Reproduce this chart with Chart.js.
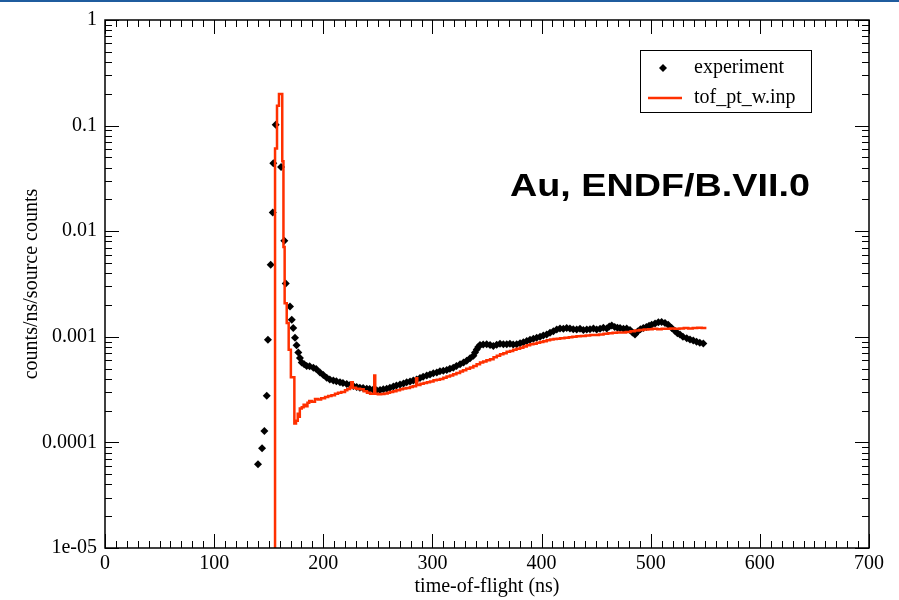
<!DOCTYPE html>
<html>
<head>
<meta charset="utf-8">
<script src="https://cdn.jsdelivr.net/npm/chart.js@4"></script>
<style>
html, body { margin: 0; padding: 0; background: #fff; }
#wrap { width: 899px; height: 600px; }
</style>
</head>
<body>
<div id="wrap"><canvas id="tofChart" width="899" height="600"></canvas></div>
<script>
// measured points (time-of-flight in ns, counts/ns/source counts)
var expTime = [140.2, 143.9, 146.0, 148.2, 149.3, 151.8, 153.7, 154.2, 156.4, 161.3,
    164.3, 165.6, 169.5, 171.1, 172.5, 174.1, 175.5, 177.1, 178.6, 180.2,
    182.5, 184.8, 187.5, 190.9, 193.5, 197.0, 200.0, 203.1, 206.0, 209.2,
    212.0, 215.3, 218.0, 221.5, 224.5, 227.5, 230.6, 233.5, 236.5, 239.8,
    242.5, 245.5, 248.9, 252.0, 255.0, 258.1, 261.0, 264.2, 267.0, 270.3,
    273.5, 276.4, 279.5, 282.5, 285.5, 288.6, 291.5, 294.8, 297.8, 300.8,
    304.0, 306.9, 310.0, 313.1, 316.0, 319.1, 322.0, 325.3, 328.5, 331.4,
    334.5, 337.5, 339.0, 340.6, 342.0, 343.6, 346.5, 349.7, 352.8, 355.8,
    358.9, 361.9, 365.0, 368.1, 371.0, 374.0, 377.2, 380.3, 383.3, 386.4,
    389.4, 392.5, 395.5, 398.6, 401.6, 404.7, 407.7, 410.8, 413.9, 416.9,
    420.0, 423.0, 426.0, 429.0, 432.2, 435.2, 438.3, 441.4, 444.4, 447.5,
    450.5, 453.6, 456.6, 459.7, 462.0, 464.3, 467.0, 469.5, 471.9, 475.0,
    478.0, 481.0, 483.3, 485.6, 488.0, 490.6, 493.2, 496.0, 498.5, 500.9,
    504.0, 507.0, 510.0, 513.1, 516.0, 519.2, 522.0, 524.5, 526.8, 529.5,
    533.0, 536.0, 539.0, 542.0, 545.0, 548.2];
var expCounts = [6.2e-5, 8.8e-5, 1.28e-4, 2.77e-4, 9.4e-4, 4.8e-3, 0.015, 0.0439, 0.1016, 0.0405,
    8.1e-3, 3.2e-3, 1.94e-3, 1.45e-3, 1.21e-3, 9.8e-4, 8.3e-4, 7.1e-4, 6.3e-4, 5.7e-4,
    5.5e-4, 5.3e-4, 5.25e-4, 5.1e-4, 4.95e-4, 4.6e-4, 4.35e-4, 4.1e-4, 3.95e-4, 3.85e-4,
    3.8e-4, 3.72e-4, 3.65e-4, 3.58e-4, 3.5e-4, 3.42e-4, 3.34e-4, 3.3e-4, 3.27e-4, 3.22e-4,
    3.2e-4, 3.15e-4, 3.11e-4, 3.14e-4, 3.18e-4, 3.22e-4, 3.3e-4, 3.39e-4, 3.45e-4, 3.54e-4,
    3.62e-4, 3.72e-4, 3.78e-4, 3.85e-4, 3.95e-4, 4.07e-4, 4.18e-4, 4.3e-4, 4.4e-4, 4.51e-4,
    4.6e-4, 4.71e-4, 4.78e-4, 4.84e-4, 4.98e-4, 5.1e-4, 5.3e-4, 5.51e-4, 5.7e-4, 5.93e-4,
    6.25e-4, 6.6e-4, 7.1e-4, 7.6e-4, 8.0e-4, 8.36e-4, 8.45e-4, 8.48e-4, 8.35e-4, 8.18e-4,
    8.4e-4, 8.6e-4, 8.5e-4, 8.48e-4, 8.6e-4, 8.45e-4, 8.48e-4, 8.7e-4, 8.9e-4, 9.12e-4,
    9.4e-4, 9.6e-4, 9.8e-4, 1.0e-3, 1.03e-3, 1.05e-3, 1.09e-3, 1.13e-3, 1.17e-3, 1.2e-3,
    1.19e-3, 1.21e-3, 1.2e-3, 1.18e-3, 1.17e-3, 1.19e-3, 1.16e-3, 1.17e-3, 1.18e-3, 1.2e-3,
    1.17e-3, 1.19e-3, 1.22e-3, 1.2e-3, 1.25e-3, 1.28e-3, 1.24e-3, 1.22e-3, 1.21e-3, 1.19e-3,
    1.2e-3, 1.16e-3, 1.1e-3, 1.05e-3, 1.12e-3, 1.18e-3, 1.21e-3, 1.24e-3, 1.27e-3, 1.30e-3,
    1.34e-3, 1.37e-3, 1.38e-3, 1.35e-3, 1.3e-3, 1.21e-3, 1.14e-3, 1.08e-3, 1.05e-3, 1.0e-3,
    9.7e-4, 9.44e-4, 9.2e-4, 9.0e-4, 8.8e-4, 8.65e-4];

// tof_pt_w.inp histogram (bin start, value)
var calcTime = [150, 155.8, 157.6, 159.4, 162.4, 163.5, 164.6, 166.5, 168.3, 170.3,
    173.5, 175.0, 176.6, 177.5, 178.5, 180.3, 182.0, 184.0, 185.5, 187.1,
    189.5, 192.4, 195.0, 198.0, 201.6, 204.5, 207.5, 210.7, 213.5, 216.5,
    219.9, 222.0, 224.5, 225.7, 227.0, 230.0, 233.7, 237.0, 240.0, 242.9,
    246.7, 247.6, 250.0, 253.0, 256.0, 259.0, 261.1, 264.0, 267.0, 270.3,
    273.0, 276.0, 279.4, 282.0, 285.0, 286.1, 289.0, 292.0, 295.0, 297.8,
    301.0, 304.0, 306.9, 310.0, 313.0, 316.1, 319.0, 322.0, 325.3, 328.0,
    331.0, 334.4, 337.5, 340.5, 343.6, 346.5, 349.5, 352.8, 356.0, 359.0,
    362.0, 365.0, 368.0, 371.1, 374.0, 377.0, 380.3, 383.3, 386.4, 389.5,
    392.5, 395.5, 398.6, 401.6, 404.7, 407.8, 411.0, 414.0, 417.0, 421.0,
    425.0, 428.2, 432.0, 436.0, 440.4, 444.5, 448.5, 452.6, 456.8, 461.0,
    465.1, 469.0, 473.0, 477.3, 481.5, 485.5, 489.6, 493.6, 497.7, 501.8,
    506.0, 510.0, 514.0, 518.0, 522.0, 526.3, 530.3, 534.4, 538.5, 542.6,
    546.7, 551.0];
var calcCounts = [1e-7, 0.0606, 0.154, 0.199, 0.046, 7.1e-3, 2.08e-3, 1.35e-3, 7.56e-4, 4.14e-4,
    1.51e-4, 1.6e-4, 1.87e-4, 1.75e-4, 2.09e-4, 2.15e-4, 2.27e-4, 2.2e-4, 2.38e-4, 2.47e-4,
    2.42e-4, 2.58e-4, 2.55e-4, 2.62e-4, 2.69e-4, 2.75e-4, 2.8e-4, 2.89e-4, 2.95e-4, 3.0e-4,
    3.11e-4, 3.2e-4, 3.34e-4, 3.72e-4, 3.3e-4, 3.22e-4, 3.18e-4, 3.05e-4, 2.95e-4, 2.89e-4,
    4.3e-4, 2.89e-4, 2.85e-4, 2.87e-4, 2.9e-4, 2.96e-4, 3.0e-4, 3.05e-4, 3.12e-4, 3.18e-4,
    3.24e-4, 3.28e-4, 3.34e-4, 3.4e-4, 4.05e-4, 3.5e-4, 3.6e-4, 3.65e-4, 3.72e-4, 3.77e-4,
    3.87e-4, 3.92e-4, 3.99e-4, 4.1e-4, 4.2e-4, 4.3e-4, 4.42e-4, 4.55e-4, 4.68e-4, 4.82e-4,
    4.98e-4, 5.13e-4, 5.3e-4, 5.5e-4, 5.71e-4, 5.85e-4, 6.0e-4, 6.14e-4, 6.4e-4, 6.6e-4,
    6.84e-4, 7.0e-4, 7.2e-4, 7.35e-4, 7.55e-4, 7.7e-4, 7.89e-4, 8.1e-4, 8.3e-4, 8.48e-4,
    8.6e-4, 8.8e-4, 8.92e-4, 9.1e-4, 9.3e-4, 9.44e-4, 9.55e-4, 9.6e-4, 9.68e-4, 9.8e-4,
    9.9e-4, 1.0e-3, 1.01e-3, 1.02e-3, 1.03e-3, 1.04e-3, 1.04e-3, 1.05e-3, 1.07e-3, 1.08e-3,
    1.09e-3, 1.1e-3, 1.1e-3, 1.11e-3, 1.13e-3, 1.15e-3, 1.16e-3, 1.17e-3, 1.18e-3, 1.19e-3,
    1.18e-3, 1.19e-3, 1.19e-3, 1.2e-3, 1.19e-3, 1.2e-3, 1.21e-3, 1.2e-3, 1.21e-3, 1.22e-3,
    1.21e-3, 1.21e-3];

var xTicks = [0, 100, 200, 300, 400, 500, 600, 700];
var yTicks = [1e-5, 1e-4, 1e-3, 1e-2, 0.1, 1];
var yTickLabels = ['1e-05', '0.0001', '0.001', '0.01', '0.1', '1'];

var serif = '"Liberation Serif", "Times New Roman", serif';

function toPoints(xs, ys) {
    return xs.map(function (x, i) { return { x: x, y: ys[i] }; });
}

// frame with inward ticks on all four sides, legend box and the label
var framePlugin = {
    id: 'frame',
    afterDraw: function (chart) {
        var ctx = chart.ctx, a = chart.chartArea;
        var xs = chart.scales.x, ys = chart.scales.y;
        ctx.save();
        ctx.fillStyle = '#1f5c9e';
        ctx.fillRect(0, 0, chart.width, 2);

        ctx.strokeStyle = '#000';
        ctx.lineWidth = 1;
        ctx.beginPath();
        for (var v = 0; v <= 700; v += 10) {
            var px = Math.round(xs.getPixelForValue(v)) + 0.5;
            var len = v % 100 === 0 ? 14 : 7;
            ctx.moveTo(px, a.bottom); ctx.lineTo(px, a.bottom - len);
            ctx.moveTo(px, a.top); ctx.lineTo(px, a.top + len);
        }
        for (var e = -5; e <= 0; e++) {
            for (var m = 1; m <= 9; m++) {
                var val = m * Math.pow(10, e);
                if (val > 1.0001) break;
                var py = Math.round(ys.getPixelForValue(val)) + 0.5;
                var l = m === 1 ? 14 : 7;
                ctx.moveTo(a.left, py); ctx.lineTo(a.left + l, py);
                ctx.moveTo(a.right, py); ctx.lineTo(a.right - l, py);
            }
        }
        ctx.stroke();
        ctx.lineWidth = 1.5;
        ctx.strokeRect(a.left, a.top, a.right - a.left, a.bottom - a.top);

        // legend
        ctx.lineWidth = 1;
        ctx.strokeRect(640.5, 50.5, 171, 62);
        ctx.fillStyle = '#000';
        ctx.beginPath();
        ctx.moveTo(663, 64); ctx.lineTo(667, 68); ctx.lineTo(663, 72); ctx.lineTo(659, 68);
        ctx.closePath();
        ctx.fill();
        ctx.strokeStyle = '#ff3000';
        ctx.lineWidth = 2.5;
        ctx.beginPath();
        ctx.moveTo(648, 98); ctx.lineTo(682, 98);
        ctx.stroke();
        ctx.font = '20px ' + serif;
        ctx.textBaseline = 'middle';
        ctx.textAlign = 'left';
        ctx.fillText(chart.data.datasets[1].label, 694, 68);
        ctx.fillText(chart.data.datasets[0].label, 694, 98);

        // annotation
        var txt = 'Au, ENDF/B.VII.0';
        ctx.font = 'bold 32px "Liberation Sans", Arial, sans-serif';
        ctx.textBaseline = 'alphabetic';
        var w = ctx.measureText(txt).width;
        ctx.translate(510, 196);
        ctx.scale(300 / w, 1);
        ctx.fillText(txt, 0, 0);
        ctx.restore();
    }
};

var ctx = document.getElementById('tofChart').getContext('2d');
var chart = new Chart(ctx, {
    type: 'line',
    data: {
        datasets: [{
            label: 'tof_pt_w.inp',
            data: toPoints(calcTime, calcCounts),
            borderColor: '#ff3000',
            borderWidth: 2.5,
            pointRadius: 0,
            stepped: true,
            fill: false,
            order: 0
        }, {
            label: 'experiment',
            data: toPoints(expTime, expCounts),
            showLine: false,
            pointStyle: 'rectRot',
            pointRadius: 4,
            pointBorderWidth: 0,
            backgroundColor: '#000',
            borderColor: '#000',
            order: 1
        }]
    },
    options: {
        responsive: false,
        animation: false,
        layout: { padding: { top: 13, right: 30, left: 0, bottom: 0 } },
        plugins: { legend: { display: false }, tooltip: { enabled: false } },
        scales: {
            x: {
                type: 'linear',
                min: 0,
                max: 700,
                afterBuildTicks: function (s) { s.ticks = xTicks.map(function (v) { return { value: v }; }); },
                afterFit: function (s) { s.height = 52; },
                grid: { display: false, drawTicks: false },
                border: { display: false },
                ticks: { color: '#000', font: { family: serif, size: 20 }, padding: 4, maxRotation: 0, autoSkip: false },
                title: { display: true, text: 'time-of-flight (ns)', color: '#000', font: { family: serif, size: 20 }, padding: { top: 0, bottom: 1 } }
            },
            y: {
                type: 'logarithmic',
                min: 1e-5,
                max: 1,
                afterBuildTicks: function (s) { s.ticks = yTicks.map(function (v) { return { value: v }; }); },
                afterFit: function (s) { s.width = 105; },
                grid: { display: false, drawTicks: false },
                border: { display: false },
                ticks: {
                    color: '#000', font: { family: serif, size: 20 }, padding: 8, autoSkip: false,
                    callback: function (v, i) { return yTickLabels[i]; }
                },
                title: { display: true, text: 'counts/ns/source counts', color: '#000', font: { family: serif, size: 20 }, padding: { top: 20, bottom: 0 } }
            }
        }
    },
    plugins: [framePlugin]
});
</script>
</body>
</html>
